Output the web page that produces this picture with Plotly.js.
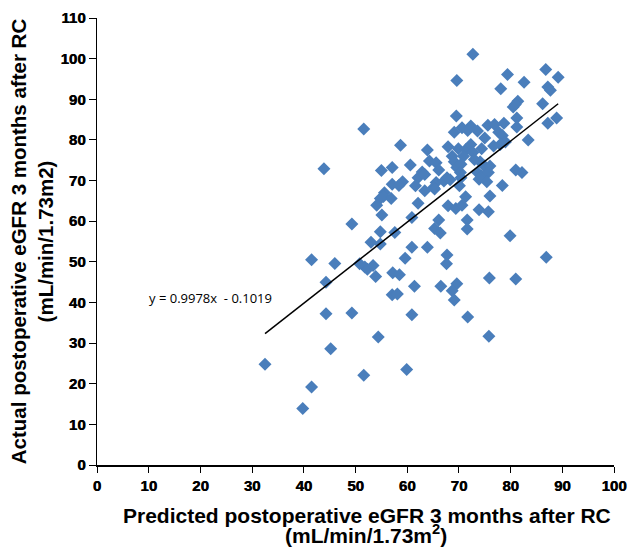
<!DOCTYPE html>
<html><head><meta charset="utf-8">
<script src="https://cdn.plot.ly/plotly-3.0.1.min.js"></script>
<style>body{margin:0;background:#fff}#chart{width:632px;height:551px}</style>
</head><body><div id="chart"></div>
<script>
const predicted = [72.7,86.8,79.4,69.6,89.2,82.6,78.1,87.2,87.7,81.4,80.9,80.5,86.2,69.5,88.9,87.2,81.2,81.2,51.6,70.6,72.3,71.7,69.1,73.6,75.6,76.9,78.7,77.7,78.4,75.0,83.4,79.0,78.0,76.7,58.7,67.9,63.9,69.9,71.4,72.3,72.7,74.4,68.7,70.9,73.0,64.3,65.6,69.1,74.1,74.9,76.0,43.9,55.0,57.1,60.6,66.1,69.6,70.4,81.0,82.2,62.9,62.1,63.4,73.6,74.4,75.7,70.3,73.9,67.7,70.4,65.6,67.1,68.3,75.4,59.1,57.1,58.4,61.6,65.1,70.1,78.4,65.3,63.4,55.6,55.4,56.9,54.8,76.0,71.3,62.1,54.1,67.9,69.4,70.6,73.9,75.7,55.1,60.9,49.3,66.1,71.6,65.3,66.4,54.8,57.6,71.6,79.9,53.0,54.8,60.9,63.9,67.7,86.9,41.5,46.0,59.6,67.6,50.8,51.8,52.3,53.4,57.2,58.5,53.9,75.9,81.0,44.3,69.6,61.4,66.5,68.7,57.1,58.1,69.1,44.3,49.3,60.9,71.7,54.4,75.8,45.2,32.5,59.9,51.6,41.5,39.8];
const actual = [101.1,97.3,96.1,94.6,95.4,94.2,92.6,93.0,92.2,89.5,88.7,88.1,88.9,85.9,85.4,84.1,85.4,83.2,82.7,83.0,83.4,82.3,81.9,82.2,83.6,83.8,84.1,81.9,81.1,80.5,80.0,79.5,78.9,78.5,78.7,78.3,77.5,77.8,77.7,78.9,76.9,77.8,76.0,76.0,75.2,74.8,74.4,74.6,74.6,73.6,73.6,72.9,72.5,73.2,73.8,72.6,73.2,74.0,72.6,72.0,72.1,70.7,71.5,72.0,71.1,72.0,72.0,70.3,70.7,70.7,69.5,69.9,70.2,69.7,69.7,69.1,68.8,68.7,68.3,68.7,68.8,67.9,67.5,67.0,66.1,65.6,65.6,66.2,66.0,64.4,63.9,63.8,63.1,63.9,62.8,62.3,61.5,60.9,59.3,60.3,60.3,58.2,57.1,57.4,57.2,58.1,56.4,54.8,54.4,53.6,53.6,51.7,51.1,50.5,49.6,50.9,49.5,49.5,48.7,48.2,49.1,47.3,46.8,46.4,46.0,45.8,45.0,44.6,44.0,44.0,42.9,41.9,42.1,40.6,37.2,37.4,37.0,36.4,31.5,31.7,28.6,24.8,23.5,22.1,19.2,13.9];
const slope = 0.9978;
const intercept = -0.1019;
const xTicks = [0,10,20,30,40,50,60,70,80,90,100];
const yTicks = [0,10,20,30,40,50,60,70,80,90,100,110];

const xMin = Math.min(...predicted), xMax = Math.max(...predicted);
const trendX = [xMin, xMax];
const trendY = trendX.map(v => slope * v + intercept);

const font = "Liberation Sans, Arial, sans-serif";
const tickFont = {family: font, size: 15, color: '#000', weight: 700, shadow: '0.5px 0 0 #000'};
const titleFont = {family: font, size: 21, color: '#000'};
Plotly.newPlot('chart', [
  {x: predicted, y: actual, type: 'scatter', mode: 'markers',
   marker: {symbol: 'diamond', size: 10, color: '#4A7EBB'}},
  {x: trendX, y: trendY, type: 'scatter', mode: 'lines',
   line: {color: '#000', width: 1.5}}
], {
  width: 632, height: 551,
  margin: {l: 97, r: 18, t: 18, b: 86},
  showlegend: false,
  paper_bgcolor: '#fff', plot_bgcolor: '#fff',
  xaxis: {range: [0, 100], tickvals: xTicks, ticktext: xTicks.map(v => '<b>' + v + '</b>'),
    showgrid: false, zeroline: false, showline: true, linecolor: '#000', linewidth: 1.5,
    ticks: 'outside', ticklen: 6, tickcolor: '#000', tickwidth: 1,
    tickfont: tickFont},
  yaxis: {range: [0, 110], tickvals: yTicks, ticktext: yTicks.map(v => '<b>' + v + '</b>'),
    showgrid: false, zeroline: false, showline: true, linecolor: '#000', linewidth: 1.5,
    ticks: 'outside', ticklen: 7, tickcolor: '#000', tickwidth: 1,
    tickfont: tickFont,
    title: {text: '<b>Actual postoperative eGFR 3 months after RC</b><br><b>(mL/min/1.73m2)</b>',
      font: {family: font, size: 20.5, color: '#000'}, standoff: 1}},
  annotations: [
    {x: 22, y: 41.1, xref: 'x', yref: 'y', showarrow: false,
     text: 'y = 0.9978x  - 0.1019', font: {family: 'Open Sans, sans-serif', size: 13, color: '#000'}},
    {x: 0.522, y: -0.113, xref: 'paper', yref: 'paper', xanchor: 'center', yanchor: 'middle', showarrow: false,
     text: '<b>Predicted postoperative eGFR 3 months after RC</b>', font: titleFont},
    {x: 0.52, y: -0.188, xref: 'paper', yref: 'paper', xanchor: 'center', yanchor: 'bottom', showarrow: false,
     text: '<b>(mL/min/1.73m<sup>2</sup>)</b>', font: titleFont}
  ]
}, {displayModeBar: false, staticPlot: true});
</script></body></html>
